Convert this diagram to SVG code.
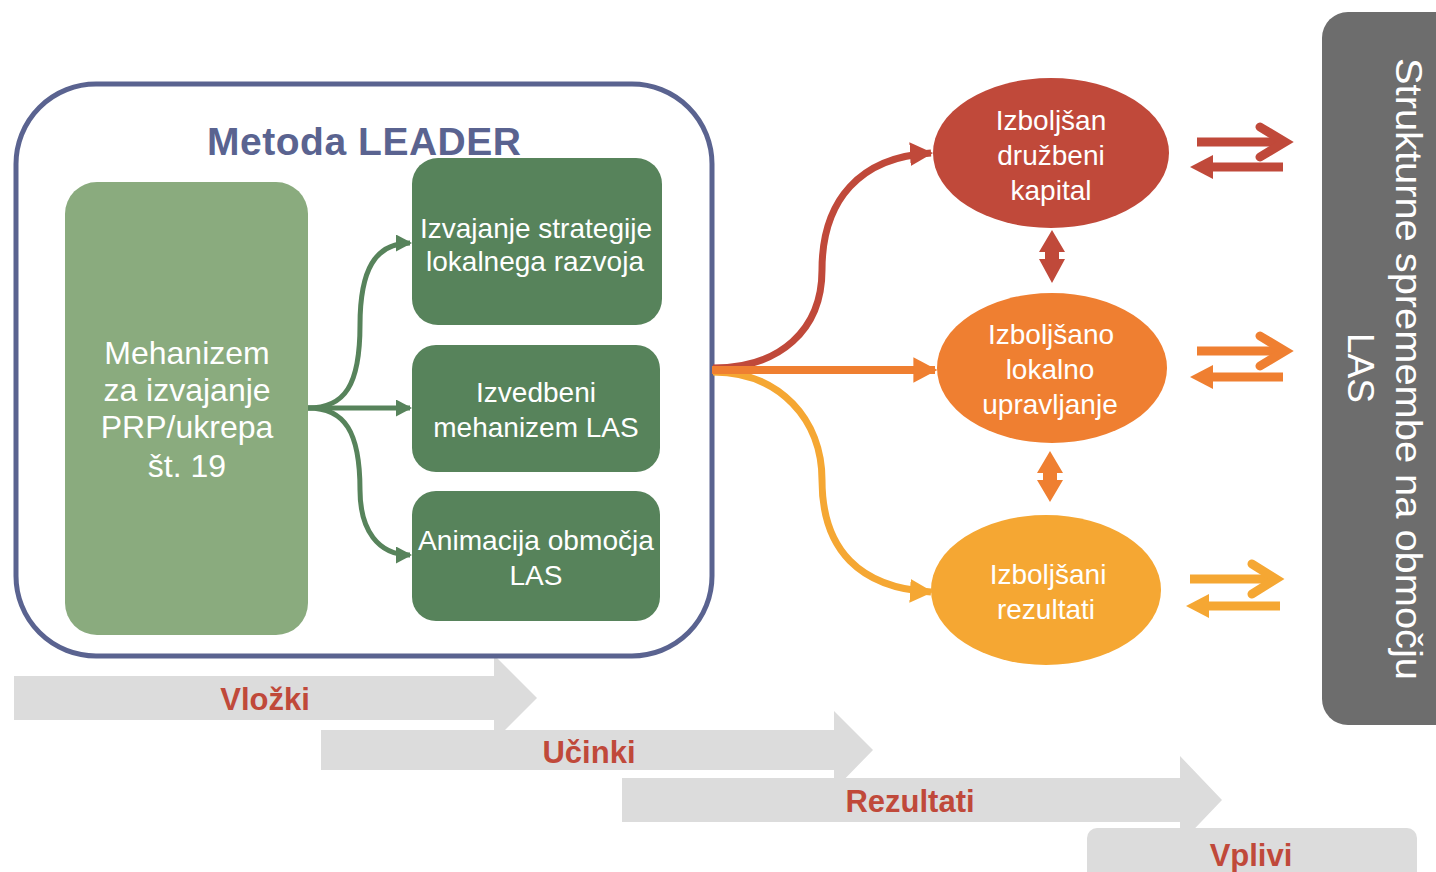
<svg xmlns="http://www.w3.org/2000/svg" width="1436" height="872" viewBox="0 0 1436 872">
<defs>
<style>
.band{fill:#dcdcdc}
.bl{font-family:"Liberation Sans",Arial,sans-serif;font-weight:bold;font-size:31px;fill:#c0493a;text-anchor:middle}
.wt{font-family:"Liberation Sans",Arial,sans-serif;fill:#fff;text-anchor:middle}
.dg{fill:#57835b}
.garr{fill:none;stroke:#57835b;stroke-width:5}
</style>
<marker id="mg" markerWidth="3.2" markerHeight="3.4" refX="2.8" refY="1.7" orient="auto" markerUnits="strokeWidth" viewBox="0 0 3.2 3.4"><path d="M0,0 L3.2,1.7 L0,3.4 z" fill="#57835b"/></marker>
<marker id="mr" markerWidth="3.3" markerHeight="3.4" refX="3" refY="1.7" orient="auto" markerUnits="strokeWidth" viewBox="0 0 3.3 3.4"><path d="M0,0 L3.3,1.7 L0,3.4 z" fill="#c0493a"/></marker>
<marker id="mo" markerWidth="3" markerHeight="3.2" refX="2.7" refY="1.6" orient="auto" markerUnits="strokeWidth" viewBox="0 0 3 3.2"><path d="M0,0 L3,1.6 L0,3.2 z" fill="#ef7f31"/></marker>
<marker id="my" markerWidth="3.3" markerHeight="3.4" refX="3" refY="1.7" orient="auto" markerUnits="strokeWidth" viewBox="0 0 3.3 3.4"><path d="M0,0 L3.3,1.7 L0,3.4 z" fill="#f5a733"/></marker>
</defs>
<rect width="1436" height="872" fill="#fff"/>

<g id="bands">
<path class="band" d="M14,676 H494 V655 L537,698 L494,741 V720 H14 Z"/>
<path class="band" d="M321,730 H834 V711 L873,750 L834,790 V770 H321 Z"/>
<path class="band" d="M622,778 H1180 V756 L1222,800 L1180,844 V822 H622 Z"/>
<rect class="band" x="1087" y="828" width="330" height="70" rx="10"/>
<text class="bl" x="265" y="710">Vložki</text>
<text class="bl" x="589" y="763">Učinki</text>
<text class="bl" x="910" y="812">Rezultati</text>
<text class="bl" x="1251" y="866">Vplivi</text>
</g>

<g id="las-box">
<rect x="1322" y="12" width="140" height="713" rx="26" fill="#6d6d6d"/>
<text class="wt" font-size="37" textLength="622" lengthAdjust="spacingAndGlyphs" transform="translate(1396,369) rotate(90)">Strukturne spremembe na območju</text>
<text class="wt" font-size="37" textLength="70" lengthAdjust="spacingAndGlyphs" transform="translate(1348,368) rotate(90)">LAS</text>
</g>

<g id="leader">
<rect x="16" y="84" width="696" height="572" rx="80" fill="none" stroke="#5a6390" stroke-width="5"/>
<text x="364" y="155" font-family="Liberation Sans,Arial,sans-serif" font-weight="bold" font-size="39" fill="#5a6390" text-anchor="middle" textLength="314">Metoda  LEADER</text>
</g>

<g id="mehanizem">
<rect x="65" y="182" width="243" height="453" rx="32" fill="#8aab7e"/>
<text class="wt" font-size="32"><tspan x="187" y="364">Mehanizem</tspan><tspan x="187" y="401">za izvajanje</tspan><tspan x="187" y="438">PRP/ukrepa</tspan><tspan x="187" y="477">št. 19</tspan></text>
</g>

<g id="izvajanje">
<rect class="dg" x="412" y="158" width="250" height="167" rx="26"/>
<text class="wt" font-size="28"><tspan x="536" y="238" textLength="232" lengthAdjust="spacingAndGlyphs">Izvajanje strategije</tspan><tspan x="535" y="271">lokalnega razvoja</tspan></text>
</g>
<g id="izvedbeni">
<rect class="dg" x="412" y="345" width="248" height="127" rx="24"/>
<text class="wt" font-size="28"><tspan x="536" y="402">Izvedbeni</tspan><tspan x="536" y="437">mehanizem LAS</tspan></text>
</g>
<g id="animacija">
<rect class="dg" x="412" y="491" width="248" height="130" rx="24"/>
<text class="wt" font-size="28"><tspan x="536" y="550" textLength="236" lengthAdjust="spacingAndGlyphs">Animacija območja</tspan><tspan x="536" y="585">LAS</tspan></text>
</g>

<g id="kapital">
<ellipse cx="1051" cy="153" rx="118" ry="75" fill="#c0493a"/>
<text class="wt" font-size="28"><tspan x="1051" y="130">Izboljšan</tspan><tspan x="1051" y="165">družbeni</tspan><tspan x="1051" y="200">kapital</tspan></text>
</g>
<g id="upravljanje">
<ellipse cx="1052" cy="368" rx="115" ry="75" fill="#ef7f31"/>
<text class="wt" font-size="28"><tspan x="1051" y="344">Izboljšano</tspan><tspan x="1050" y="379">lokalno</tspan><tspan x="1050" y="414">upravljanje</tspan></text>
</g>
<g id="rezultati">
<ellipse cx="1046" cy="590" rx="115" ry="75" fill="#f5a733"/>
<text class="wt" font-size="28"><tspan x="1048" y="584">Izboljšani</tspan><tspan x="1046" y="619">rezultati</tspan></text>
</g>

<g id="connectors">
<path class="garr" d="M308,408 C345,408 360,385 360,325 C360,270 375,243 410,243" marker-end="url(#mg)"/>
<path class="garr" d="M308,408 H410" marker-end="url(#mg)"/>
<path class="garr" d="M308,408 C345,408 360,432 360,490 C360,530 378,555 410,555" marker-end="url(#mg)"/>

<path d="M713,368 C780,368 822,330 822,270 C822,200 860,157 931,153" fill="none" stroke="#c0493a" stroke-width="7" marker-end="url(#mr)"/>
<path d="M713,372 C780,372 822,420 822,480 C822,550 860,588 931,592" fill="none" stroke="#f5a733" stroke-width="7" marker-end="url(#my)"/>
<path d="M712,370 H935" fill="none" stroke="#ef7f31" stroke-width="8" marker-end="url(#mo)"/>

<path d="M1052,230 L1065,252 H1059 V259 H1065 L1052,283 L1039,259 H1045 V252 H1039 Z" fill="#c0493a"/>
<path d="M1050,451 L1063,473 H1057 V480 H1063 L1050,502 L1037,480 H1043 V473 H1037 Z" fill="#ef7f31"/>

<g fill="none" stroke-width="9" stroke-linecap="butt">
<path d="M1197,142 H1285" stroke="#c0493a"/>
<path d="M1260,127 L1285,142 L1260,157" stroke="#c0493a" stroke-linecap="round"/>
<path d="M1283,167 H1210" stroke="#c0493a"/>
<path d="M1197,351 H1285" stroke="#ef7f31"/>
<path d="M1260,336 L1285,351 L1260,366" stroke="#ef7f31" stroke-linecap="round"/>
<path d="M1283,377 H1210" stroke="#ef7f31"/>
<path d="M1190,579 H1276" stroke="#f5a733"/>
<path d="M1252,564 L1276,579 L1252,594" stroke="#f5a733" stroke-linecap="round"/>
<path d="M1280,606 H1205" stroke="#f5a733"/>
</g>
<path d="M1190,167 L1213,155 V179 Z" fill="#c0493a"/>
<path d="M1190,377 L1213,365 V389 Z" fill="#ef7f31"/>
<path d="M1186,606 L1209,594 V618 Z" fill="#f5a733"/>
</g>
</svg>
